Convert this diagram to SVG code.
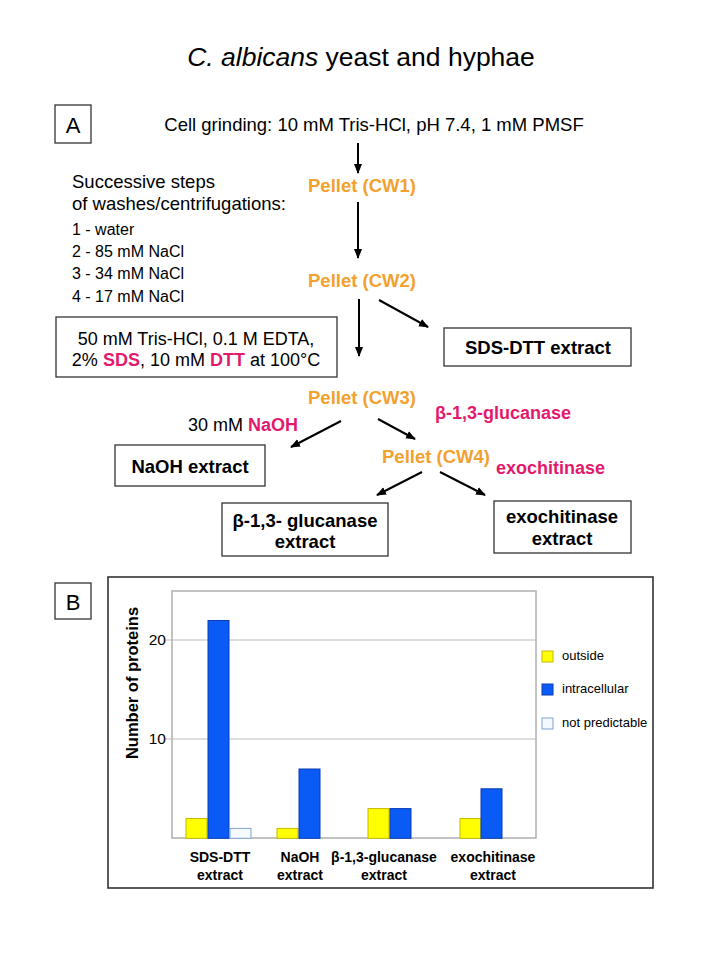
<svg xmlns="http://www.w3.org/2000/svg" width="720" height="960" viewBox="0 0 720 960">
<defs>
<marker id="ah" viewBox="0 0 10 10" refX="9" refY="5" markerWidth="5" markerHeight="5" orient="auto" markerUnits="strokeWidth">
<path d="M0,1 L10,5 L0,9 Z" fill="#000"/>
</marker>
<style>
text{font-family:"Liberation Sans",Arial,Helvetica,sans-serif;fill:#000}
.box{fill:#fff;stroke:#333;stroke-width:1.3}
.pel{fill:#F2A12E;font-weight:bold;font-size:18.5px}
.pink{fill:#E2196C;font-weight:bold}
.bold{font-weight:bold}
.conn line{stroke:#000;stroke-width:2;marker-end:url(#ah)}
.yel{fill:#FFFF00;stroke:#C8B800;stroke-width:1}
.blu{fill:#0A5AF5;stroke:#0A3CB4;stroke-width:1}
.lt{fill:#F4FAFF;stroke:#7FA3D0;stroke-width:1}
.grid{stroke:#BDBDBD;stroke-width:1}
</style>
</defs>
<rect width="720" height="960" fill="#fff"/>

<text x="361" y="66" text-anchor="middle" font-size="26.5"><tspan font-style="italic">C. albicans</tspan> yeast and hyphae</text>

<g id="labelA">
<rect x="55" y="105" width="36" height="38" class="box"/>
<text x="73" y="133" text-anchor="middle" font-size="22">A</text>
</g>

<g id="grinding">
<text x="374" y="131" text-anchor="middle" font-size="18.5">Cell grinding: 10 mM Tris-HCl, pH 7.4, 1 mM PMSF</text>
</g>

<g id="steps">
<text x="72" y="188" font-size="18.5">Successive steps</text>
<text x="72" y="210" font-size="18.5">of washes/centrifugations:</text>
<text x="72" y="235" font-size="16">1 - water</text>
<text x="72" y="257" font-size="16">2 - 85 mM NaCl</text>
<text x="72" y="279" font-size="16">3 - 34 mM NaCl</text>
<text x="72" y="302" font-size="16">4 - 17 mM NaCl</text>
</g>

<g id="cw1"><text x="308" y="192" class="pel">Pellet (CW1)</text></g>
<g id="cw2"><text x="308" y="287" class="pel">Pellet (CW2)</text></g>
<g id="cw3"><text x="308" y="404" class="pel">Pellet (CW3)</text></g>
<g id="cw4"><text x="382" y="463" class="pel">Pellet (CW4)</text></g>

<g id="sdsbuffer">
<rect x="56" y="317" width="281" height="60" class="box"/>
<text x="196" y="345" text-anchor="middle" font-size="18">50 mM Tris-HCl, 0.1 M EDTA,</text>
<text x="196" y="366" text-anchor="middle" font-size="18">2% <tspan class="pink">SDS</tspan>, 10 mM <tspan class="pink">DTT</tspan> at 100°C</text>
</g>

<g id="sdsdtt">
<rect x="444" y="328" width="187" height="38" class="box"/>
<text x="538" y="354" text-anchor="middle" font-size="18.5" class="bold">SDS-DTT extract</text>
</g>

<g id="glucanaseLabel"><text x="435" y="419" font-size="18" class="pink">β-1,3-glucanase</text></g>
<g id="naohLabel"><text x="188" y="431" font-size="18">30 mM <tspan class="pink">NaOH</tspan></text></g>
<g id="exoLabel"><text x="496" y="474" font-size="18" class="pink">exochitinase</text></g>

<g id="naohext">
<rect x="115" y="445" width="150" height="41" class="box"/>
<text x="190" y="473" text-anchor="middle" font-size="18.5" class="bold">NaOH extract</text>
</g>

<g id="glucext">
<rect x="222" y="503" width="166" height="53" class="box"/>
<text x="305" y="527" text-anchor="middle" font-size="18.5" class="bold">β-1,3- glucanase</text>
<text x="305" y="548" text-anchor="middle" font-size="18.5" class="bold">extract</text>
</g>

<g id="exoext">
<rect x="494" y="501" width="137" height="52" class="box"/>
<text x="562" y="523" text-anchor="middle" font-size="18.5" class="bold">exochitinase</text>
<text x="562" y="545" text-anchor="middle" font-size="18.5" class="bold">extract</text>
</g>

<g id="connectors" class="conn">
<line x1="358" y1="143" x2="358" y2="173"/>
<line x1="358" y1="202" x2="358" y2="258"/>
<line x1="359" y1="299" x2="359" y2="356"/>
<line x1="379" y1="300" x2="428" y2="327"/>
<line x1="341" y1="421" x2="291" y2="447"/>
<line x1="378" y1="419" x2="415" y2="439"/>
<line x1="422" y1="472" x2="377" y2="495"/>
<line x1="440" y1="472" x2="485" y2="495"/>
</g>

<g id="labelB">
<rect x="55" y="583" width="36" height="36" class="box"/>
<text x="73" y="610" text-anchor="middle" font-size="22">B</text>
</g>

<g id="chart">
<rect x="108" y="577" width="545" height="311" fill="#fff" stroke="#333" stroke-width="1.6"/>
<line x1="165" y1="640" x2="536" y2="640" class="grid"/>
<line x1="165" y1="739" x2="536" y2="739" class="grid"/>
<rect x="172" y="591" width="364" height="247" fill="none" stroke="#AFAFAF" stroke-width="1.5"/>
<text x="166" y="645" text-anchor="end" font-size="15.5">20</text>
<text x="166" y="744" text-anchor="end" font-size="15.5">10</text>
<text transform="translate(138,683) rotate(-90)" text-anchor="middle" font-size="16.5" class="bold">Number of proteins</text>

<rect x="186" y="818.5" width="21" height="19.8" class="yel"/>
<rect x="208" y="620.5" width="21" height="217.8" class="blu"/>
<rect x="230" y="828.4" width="21" height="9.9" class="lt"/>

<rect x="277" y="828.4" width="21" height="9.9" class="yel"/>
<rect x="299" y="769" width="21" height="69.3" class="blu"/>

<rect x="368" y="808.6" width="21" height="29.7" class="yel"/>
<rect x="390" y="808.6" width="21" height="29.7" class="blu"/>

<rect x="460" y="818.5" width="21" height="19.8" class="yel"/>
<rect x="481" y="788.8" width="21" height="49.5" class="blu"/>

<rect x="542" y="651" width="11" height="11" class="yel"/>
<rect x="542" y="684" width="11" height="11" class="blu"/>
<rect x="542" y="718" width="11" height="11" class="lt"/>
<text x="562" y="660" font-size="13">outside</text>
<text x="562" y="693" font-size="13">intracellular</text>
<text x="562" y="727" font-size="13">not predictable</text>

<text x="220" y="862" text-anchor="middle" font-size="14" class="bold">SDS-DTT</text>
<text x="220" y="880" text-anchor="middle" font-size="14" class="bold">extract</text>
<text x="300" y="862" text-anchor="middle" font-size="14" class="bold">NaOH</text>
<text x="300" y="880" text-anchor="middle" font-size="14" class="bold">extract</text>
<text x="384" y="862" text-anchor="middle" font-size="14" class="bold">β-1,3-glucanase</text>
<text x="384" y="880" text-anchor="middle" font-size="14" class="bold">extract</text>
<text x="493" y="862" text-anchor="middle" font-size="14" class="bold">exochitinase</text>
<text x="493" y="880" text-anchor="middle" font-size="14" class="bold">extract</text>
</g>
</svg>
